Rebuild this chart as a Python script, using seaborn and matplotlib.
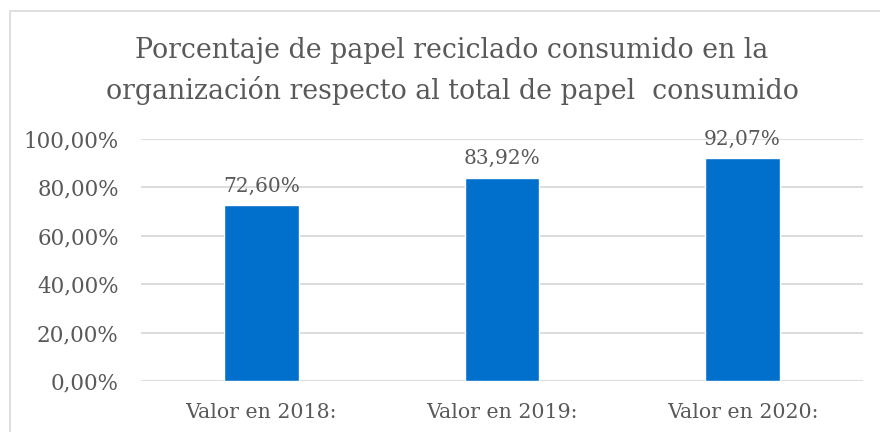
import matplotlib
matplotlib.use("Agg")
import matplotlib.pyplot as plt
import seaborn as sns
import pandas as pd
from matplotlib.patches import Rectangle
from matplotlib.ticker import FuncFormatter

categories = ["Valor en 2018:", "Valor en 2019:", "Valor en 2020:"]
values = [72.60, 83.92, 92.07]
value_labels = ["72,60%", "83,92%", "92,07%"]
yticks = [0, 20, 40, 60, 80, 100]

sns.set_theme(style="white")
plt.rcParams['font.family'] = ['DejaVu Serif']

df = pd.DataFrame({"cat": categories, "val": values})

fig = plt.figure(figsize=(8.8, 4.32), dpi=100)
ax = fig.add_axes([141/880, 1-381/432, (863-141)/880, (381-139)/432])

sns.barplot(data=df, x="cat", y="val", color="#0070CC", saturation=1, width=0.31, ax=ax)

grey = "#595959"
ax.set_ylim(0, 100)
ax.set_yticks(yticks)
ax.yaxis.set_major_formatter(FuncFormatter(lambda v, p: f"{v:.2f}%".replace(".", ",")))
ax.grid(axis="y", color="#D9D9D9", linewidth=1.3)
ax.set_axisbelow(True)
for s in ax.spines.values():
    s.set_visible(False)
ax.set_xlabel("")
ax.set_ylabel("")
ax.tick_params(axis="both", length=0, colors=grey)
ax.tick_params(axis="y", pad=16, labelsize=15.5)
ax.tick_params(axis="x", pad=16, labelsize=14.8)

for i, (v, lab) in enumerate(zip(values, value_labels)):
    ax.annotate(lab, (i, v), xytext=(0, 7), textcoords="offset points",
                ha="center", va="bottom", fontsize=14.5, color=grey)

fig.text(452/880, 1-71/432,
         "Porcentaje de papel reciclado consumido en la\norganización respecto al total de papel  consumido",
         ha="center", va="center", fontsize=19.3, color=grey, linespacing=1.55)

fig.patches.append(Rectangle((10/880, -0.2), 1.2, 1.2 - 11/432, transform=fig.transFigure,
                             fill=False, edgecolor="#D9D9D9", linewidth=1.2))

fig.savefig("out.png", dpi=100, facecolor="white")
